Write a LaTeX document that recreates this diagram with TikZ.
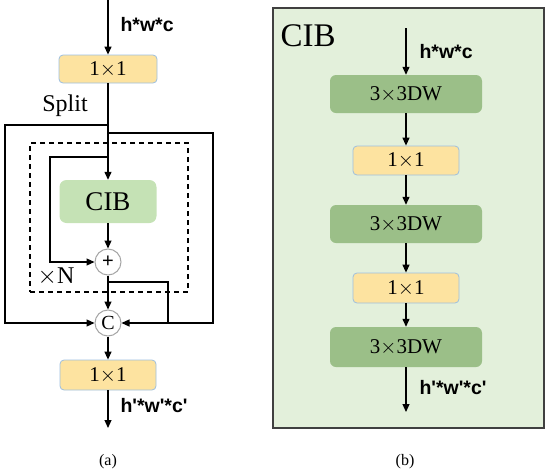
\documentclass[tikz,border=0pt]{standalone}
\usepackage{fontspec}
\setmainfont{Liberation Serif}
\newfontfamily\labelfont{Liberation Sans}
\usetikzlibrary{arrows.meta, positioning}

\definecolor{convyellow}{HTML}{FDE3A0}
\definecolor{convedge}{HTML}{9DBFDF}
\definecolor{cibgreen}{HTML}{C5E2B5}
\definecolor{dwgreen}{HTML}{9BBF88}
\definecolor{panelgreen}{HTML}{E3F0DB}
\definecolor{circedge}{HTML}{A6A6A6}

\tikzset{
    arr/.style={line width=1.2pt, -{Triangle[length=8pt,width=7pt]}},
    line/.style={line width=1.2pt},
    convbox/.style={draw=convedge, fill=convyellow, rounded corners=4pt, line width=0.8pt,
        minimum width=98pt, minimum height=28pt, font=\fontsize{21}{24}\selectfont},
    cibbox/.style={fill=cibgreen, rounded corners=7pt, minimum width=97pt, minimum height=43pt,
        font=\fontsize{27}{30}\selectfont},
    dwbox/.style={fill=dwgreen, rounded corners=6pt, minimum width=152pt, minimum height=38pt,
        font=\fontsize{21}{24}\selectfont},
    opcirc/.style={circle, draw=circedge, fill=white, line width=1pt, minimum size=26pt,
        inner sep=0pt, font=\fontsize{20}{22}\selectfont},
    shapelbl/.style={font=\labelfont\bfseries\fontsize{19.5}{22}\selectfont, anchor=west},
    caption/.style={font=\fontsize{16}{19}\selectfont}
}

\begin{document}
\begin{tikzpicture}[x=1pt, y=-1pt]
    \useasboundingbox (0,0) rectangle (550,472);

    % (a) block with split, repeated CIB and concat
    \node[draw, line width=1.2pt, dash pattern=on 5pt off 4pt,
        minimum width=158pt, minimum height=149pt] (repeatbox) at (109,217.5) {};
    \coordinate (topA) at (108,0);
    \node[convbox] (convA) at (108,69) {1$\times$1};
    \node[shapelbl] (hwcA) at (117,25) {h*w*c};
    \node[font=\fontsize{24}{27}\selectfont] (split) at (65,106) {Split};
    \coordinate (splitL) at (108,125);
    \coordinate (splitR) at (108,133);
    \coordinate (loopIn) at (108,157);
    \node[cibbox] (cibA) at (108,201.5) {CIB};
    \node[opcirc, font=\labelfont\fontsize{20}{22}\selectfont] (plus) at (108,262) {+};
    \node[font=\fontsize{24}{27}\selectfont] (times) at (56,277) {$\times$N};
    \coordinate (branch) at (108,282);
    \node[opcirc] (cat) at (108,323) {C};
    \node[convbox, minimum width=96pt, minimum height=30pt] (convB) at (108,375) {1$\times$1};
    \coordinate (outA) at (108,428);
    \node[shapelbl] (hwcOutA) at (117,406) {h'*w'*c'};
    \node[caption] (capA) at (108,462) {(a)};

    \draw[arr] (topA) -- (convA);
    \draw[arr] (convA) -- (cibA);
    \draw[arr] (splitL) -- ++(-103,0) |- (cat);
    \draw[arr] (splitR) -- ++(105,0) |- (cat);
    \draw[arr] (loopIn) -- ++(-58,0) |- (plus);
    \draw[arr] (cibA) -- (plus);
    \draw[arr] (plus) -- (cat);
    \draw[line] (branch) -- ++(60,0) -- ++(0,41);
    \draw[arr] (cat) -- (convB);
    \draw[arr] (convB) -- (outA);

    % (b) CIB
    \node[draw=black!75, fill=panelgreen, line width=1.3pt,
        minimum width=271pt, minimum height=420pt] (panelB) at (408.5,218) {};
    \node[font=\fontsize{33}{36}\selectfont, anchor=west] (cibTitle) at (277,36) {CIB};
    \coordinate (topB) at (406,28);
    \node[shapelbl] (hwcB) at (416,52) {h*w*c};
    \node[dwbox] (dwA) at (406,94) {3$\times$3DW};
    \node[convbox, minimum width=106pt, minimum height=29pt] (pwA) at (406,160.5) {1$\times$1};
    \node[dwbox] (dwB) at (406,224) {3$\times$3DW};
    \node[convbox, minimum width=106pt, minimum height=30pt] (pwB) at (406,288) {1$\times$1};
    \node[dwbox, minimum height=40pt] (dwC) at (406,347) {3$\times$3DW};
    \coordinate (outB) at (406,412);
    \node[shapelbl] (hwcOutB) at (416,388) {h'*w'*c'};
    \node[caption] (capB) at (405,462) {(b)};

    \draw[arr] (topB) -- (dwA);
    \draw[arr] (dwA) -- (pwA);
    \draw[arr] (pwA) -- (dwB);
    \draw[arr] (dwB) -- (pwB);
    \draw[arr] (pwB) -- (dwC);
    \draw[arr] (dwC) -- (outB);
\end{tikzpicture}
\end{document}
